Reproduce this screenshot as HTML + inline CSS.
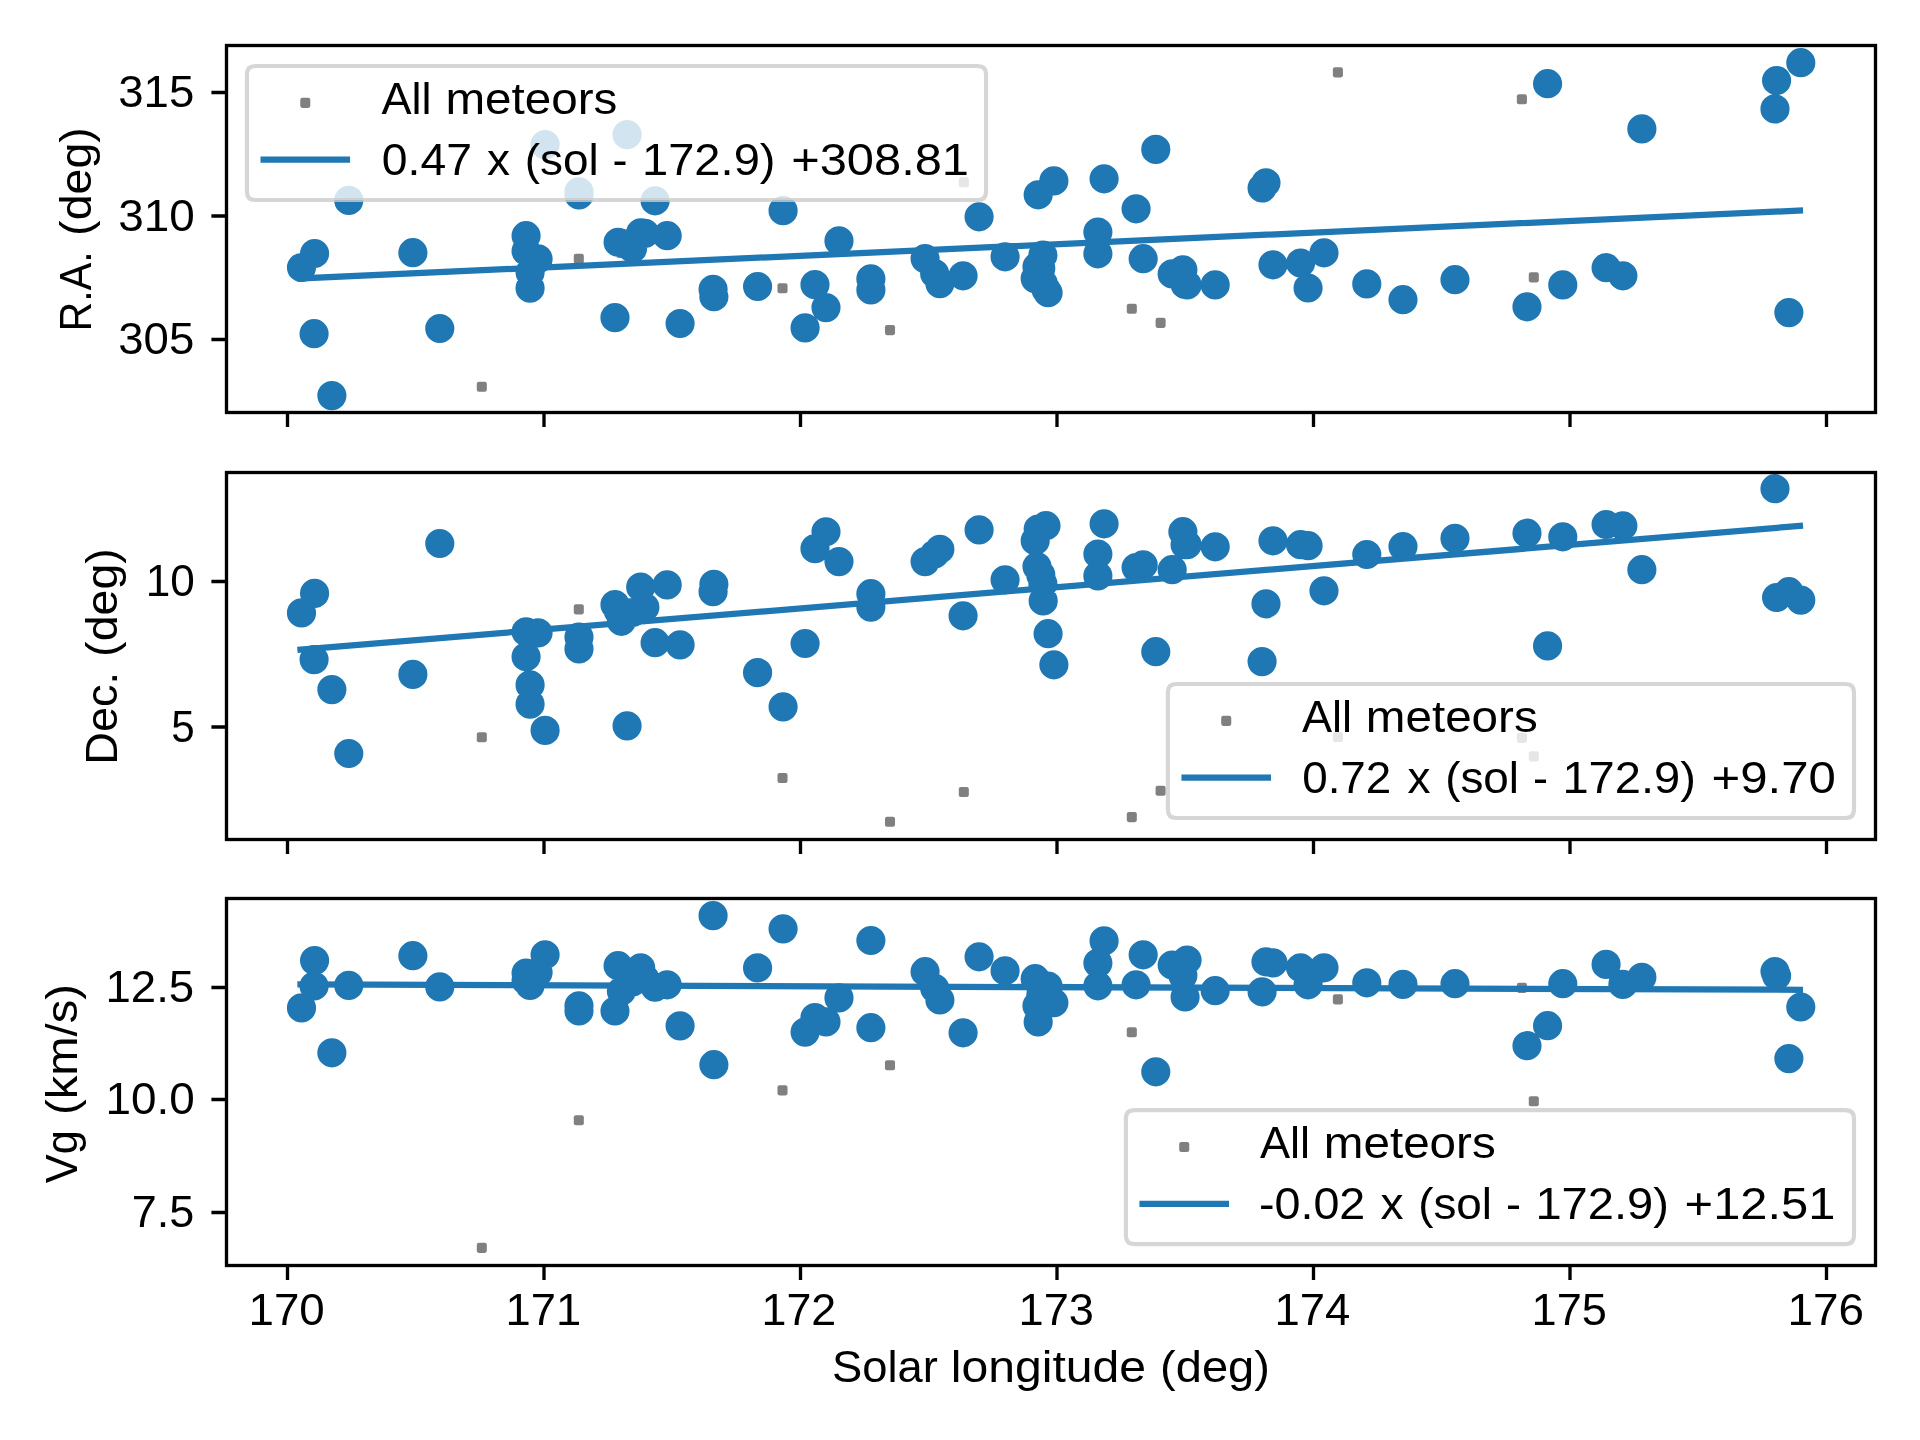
<!DOCTYPE html>
<html lang="en"><head><meta charset="utf-8"><title>Meteor shower radiant drift</title>
<style>html,body{margin:0;padding:0;background:#fff}svg{display:block;will-change:transform}text{font-family:"Liberation Sans",sans-serif;font-size:44.2px;fill:#000}</style></head>
<body><svg width="1920" height="1440" viewBox="0 0 1920 1440">
<rect width="1920" height="1440" fill="#fff"/>
<g>
<g><rect x="476.77" y="381.77" width="10.06" height="10.06" rx="2.08" fill="#808080"/><rect x="573.77" y="253.87" width="10.06" height="10.06" rx="2.08" fill="#808080"/><rect x="777.47" y="283.17" width="10.06" height="10.06" rx="2.08" fill="#808080"/><rect x="884.97" y="325.07" width="10.06" height="10.06" rx="2.08" fill="#808080"/><rect x="958.77" y="177.27" width="10.06" height="10.06" rx="2.08" fill="#808080"/><rect x="1126.77" y="303.67" width="10.06" height="10.06" rx="2.08" fill="#808080"/><rect x="1155.57" y="317.87" width="10.06" height="10.06" rx="2.08" fill="#808080"/><rect x="1332.87" y="67.37" width="10.06" height="10.06" rx="2.08" fill="#808080"/><rect x="1516.87" y="94.17" width="10.06" height="10.06" rx="2.08" fill="#808080"/><rect x="1528.77" y="272.37" width="10.06" height="10.06" rx="2.08" fill="#808080"/></g>
<path fill="#1f77b4" d="M286.9 267.5a14.58 14.58 0 1 0 29.16 0a14.58 14.58 0 1 0-29.16 0zM300.0 253.5a14.58 14.58 0 1 0 29.16 0a14.58 14.58 0 1 0-29.16 0zM299.5 333.7a14.58 14.58 0 1 0 29.16 0a14.58 14.58 0 1 0-29.16 0zM317.3 395.6a14.58 14.58 0 1 0 29.16 0a14.58 14.58 0 1 0-29.16 0zM334.2 200.4a14.58 14.58 0 1 0 29.16 0a14.58 14.58 0 1 0-29.16 0zM398.3 252.7a14.58 14.58 0 1 0 29.16 0a14.58 14.58 0 1 0-29.16 0zM425.2 328.5a14.58 14.58 0 1 0 29.16 0a14.58 14.58 0 1 0-29.16 0zM511.5 235.7a14.58 14.58 0 1 0 29.16 0a14.58 14.58 0 1 0-29.16 0zM511.5 251.1a14.58 14.58 0 1 0 29.16 0a14.58 14.58 0 1 0-29.16 0zM515.5 272.4a14.58 14.58 0 1 0 29.16 0a14.58 14.58 0 1 0-29.16 0zM515.5 288.2a14.58 14.58 0 1 0 29.16 0a14.58 14.58 0 1 0-29.16 0zM523.5 258.9a14.58 14.58 0 1 0 29.16 0a14.58 14.58 0 1 0-29.16 0zM530.5 144.6a14.58 14.58 0 1 0 29.16 0a14.58 14.58 0 1 0-29.16 0zM564.4 191.8a14.58 14.58 0 1 0 29.16 0a14.58 14.58 0 1 0-29.16 0zM564.4 194.9a14.58 14.58 0 1 0 29.16 0a14.58 14.58 0 1 0-29.16 0zM600.4 317.7a14.58 14.58 0 1 0 29.16 0a14.58 14.58 0 1 0-29.16 0zM603.5 242.3a14.58 14.58 0 1 0 29.16 0a14.58 14.58 0 1 0-29.16 0zM606.8 243.4a14.58 14.58 0 1 0 29.16 0a14.58 14.58 0 1 0-29.16 0zM612.5 134.7a14.58 14.58 0 1 0 29.16 0a14.58 14.58 0 1 0-29.16 0zM618.0 248.5a14.58 14.58 0 1 0 29.16 0a14.58 14.58 0 1 0-29.16 0zM626.1 232.9a14.58 14.58 0 1 0 29.16 0a14.58 14.58 0 1 0-29.16 0zM630.3 233.4a14.58 14.58 0 1 0 29.16 0a14.58 14.58 0 1 0-29.16 0zM640.5 200.8a14.58 14.58 0 1 0 29.16 0a14.58 14.58 0 1 0-29.16 0zM652.6 235.7a14.58 14.58 0 1 0 29.16 0a14.58 14.58 0 1 0-29.16 0zM665.5 323.5a14.58 14.58 0 1 0 29.16 0a14.58 14.58 0 1 0-29.16 0zM698.5 289.4a14.58 14.58 0 1 0 29.16 0a14.58 14.58 0 1 0-29.16 0zM699.3 296.7a14.58 14.58 0 1 0 29.16 0a14.58 14.58 0 1 0-29.16 0zM743.0 286.5a14.58 14.58 0 1 0 29.16 0a14.58 14.58 0 1 0-29.16 0zM768.5 210.7a14.58 14.58 0 1 0 29.16 0a14.58 14.58 0 1 0-29.16 0zM790.5 327.9a14.58 14.58 0 1 0 29.16 0a14.58 14.58 0 1 0-29.16 0zM800.4 284.7a14.58 14.58 0 1 0 29.16 0a14.58 14.58 0 1 0-29.16 0zM811.4 307.6a14.58 14.58 0 1 0 29.16 0a14.58 14.58 0 1 0-29.16 0zM824.4 240.9a14.58 14.58 0 1 0 29.16 0a14.58 14.58 0 1 0-29.16 0zM856.3 278.9a14.58 14.58 0 1 0 29.16 0a14.58 14.58 0 1 0-29.16 0zM856.3 289.9a14.58 14.58 0 1 0 29.16 0a14.58 14.58 0 1 0-29.16 0zM910.5 258.6a14.58 14.58 0 1 0 29.16 0a14.58 14.58 0 1 0-29.16 0zM920.1 273.7a14.58 14.58 0 1 0 29.16 0a14.58 14.58 0 1 0-29.16 0zM925.3 283.6a14.58 14.58 0 1 0 29.16 0a14.58 14.58 0 1 0-29.16 0zM948.5 275.8a14.58 14.58 0 1 0 29.16 0a14.58 14.58 0 1 0-29.16 0zM964.5 216.8a14.58 14.58 0 1 0 29.16 0a14.58 14.58 0 1 0-29.16 0zM990.5 256.8a14.58 14.58 0 1 0 29.16 0a14.58 14.58 0 1 0-29.16 0zM1020.6 278.6a14.58 14.58 0 1 0 29.16 0a14.58 14.58 0 1 0-29.16 0zM1022.4 266.7a14.58 14.58 0 1 0 29.16 0a14.58 14.58 0 1 0-29.16 0zM1023.6 194.8a14.58 14.58 0 1 0 29.16 0a14.58 14.58 0 1 0-29.16 0zM1026.2 268.4a14.58 14.58 0 1 0 29.16 0a14.58 14.58 0 1 0-29.16 0zM1028.3 255.2a14.58 14.58 0 1 0 29.16 0a14.58 14.58 0 1 0-29.16 0zM1028.6 283.3a14.58 14.58 0 1 0 29.16 0a14.58 14.58 0 1 0-29.16 0zM1031.4 289.4a14.58 14.58 0 1 0 29.16 0a14.58 14.58 0 1 0-29.16 0zM1033.5 292.7a14.58 14.58 0 1 0 29.16 0a14.58 14.58 0 1 0-29.16 0zM1039.3 180.9a14.58 14.58 0 1 0 29.16 0a14.58 14.58 0 1 0-29.16 0zM1083.3 232.1a14.58 14.58 0 1 0 29.16 0a14.58 14.58 0 1 0-29.16 0zM1083.3 253.8a14.58 14.58 0 1 0 29.16 0a14.58 14.58 0 1 0-29.16 0zM1089.5 178.8a14.58 14.58 0 1 0 29.16 0a14.58 14.58 0 1 0-29.16 0zM1121.5 208.8a14.58 14.58 0 1 0 29.16 0a14.58 14.58 0 1 0-29.16 0zM1128.6 258.7a14.58 14.58 0 1 0 29.16 0a14.58 14.58 0 1 0-29.16 0zM1141.2 149.4a14.58 14.58 0 1 0 29.16 0a14.58 14.58 0 1 0-29.16 0zM1157.6 273.9a14.58 14.58 0 1 0 29.16 0a14.58 14.58 0 1 0-29.16 0zM1168.3 269.8a14.58 14.58 0 1 0 29.16 0a14.58 14.58 0 1 0-29.16 0zM1170.5 284.4a14.58 14.58 0 1 0 29.16 0a14.58 14.58 0 1 0-29.16 0zM1172.5 284.9a14.58 14.58 0 1 0 29.16 0a14.58 14.58 0 1 0-29.16 0zM1200.6 284.9a14.58 14.58 0 1 0 29.16 0a14.58 14.58 0 1 0-29.16 0zM1247.5 188.0a14.58 14.58 0 1 0 29.16 0a14.58 14.58 0 1 0-29.16 0zM1251.4 182.8a14.58 14.58 0 1 0 29.16 0a14.58 14.58 0 1 0-29.16 0zM1258.4 264.8a14.58 14.58 0 1 0 29.16 0a14.58 14.58 0 1 0-29.16 0zM1286.0 263.0a14.58 14.58 0 1 0 29.16 0a14.58 14.58 0 1 0-29.16 0zM1293.5 288.0a14.58 14.58 0 1 0 29.16 0a14.58 14.58 0 1 0-29.16 0zM1309.4 252.8a14.58 14.58 0 1 0 29.16 0a14.58 14.58 0 1 0-29.16 0zM1352.2 283.9a14.58 14.58 0 1 0 29.16 0a14.58 14.58 0 1 0-29.16 0zM1388.4 299.7a14.58 14.58 0 1 0 29.16 0a14.58 14.58 0 1 0-29.16 0zM1440.4 279.7a14.58 14.58 0 1 0 29.16 0a14.58 14.58 0 1 0-29.16 0zM1512.4 306.8a14.58 14.58 0 1 0 29.16 0a14.58 14.58 0 1 0-29.16 0zM1533.0 83.7a14.58 14.58 0 1 0 29.16 0a14.58 14.58 0 1 0-29.16 0zM1548.2 284.9a14.58 14.58 0 1 0 29.16 0a14.58 14.58 0 1 0-29.16 0zM1591.5 267.7a14.58 14.58 0 1 0 29.16 0a14.58 14.58 0 1 0-29.16 0zM1608.3 275.8a14.58 14.58 0 1 0 29.16 0a14.58 14.58 0 1 0-29.16 0zM1627.3 128.9a14.58 14.58 0 1 0 29.16 0a14.58 14.58 0 1 0-29.16 0zM1760.4 108.9a14.58 14.58 0 1 0 29.16 0a14.58 14.58 0 1 0-29.16 0zM1762.0 80.5a14.58 14.58 0 1 0 29.16 0a14.58 14.58 0 1 0-29.16 0zM1774.3 312.6a14.58 14.58 0 1 0 29.16 0a14.58 14.58 0 1 0-29.16 0zM1786.2 62.7a14.58 14.58 0 1 0 29.16 0a14.58 14.58 0 1 0-29.16 0z"/>
<line x1="300.50" y1="278.48" x2="1799.90" y2="210.57" stroke="#1f77b4" stroke-width="6.25" stroke-linecap="square"/>
<path d="M287.50 412.50v14.58M544.00 412.50v14.58M800.50 412.50v14.58M1057.00 412.50v14.58M1313.50 412.50v14.58M1570.00 412.50v14.58M1826.50 412.50v14.58M226.50 92.50h-15.1M226.50 216.00h-15.1M226.50 339.50h-15.1" stroke="#000" stroke-width="3.33" fill="none"/>
<rect x="226.50" y="45.50" width="1649.00" height="367.00" fill="none" stroke="#000" stroke-width="3.33" stroke-linejoin="miter"/>
<text x="118.27" y="107.20" textLength="75.95" lengthAdjust="spacingAndGlyphs">315</text>
<text x="118.25" y="230.70" textLength="76.54" lengthAdjust="spacingAndGlyphs">310</text>
<text x="118.27" y="354.20" textLength="75.95" lengthAdjust="spacingAndGlyphs">305</text>
<text transform="translate(90.80 2000.00) rotate(-90)" y="0"><tspan x="1668.62" textLength="80.15" lengthAdjust="spacingAndGlyphs">R.A.</tspan> <tspan x="1764.11" textLength="108.78" lengthAdjust="spacingAndGlyphs">(deg)</tspan></text>
<path d="M255.28 66.00L977.72 66.00Q986.05 66.00 986.05 74.33L986.05 191.67Q986.05 200.00 977.72 200.00L255.28 200.00Q246.95 200.00 246.95 191.67L246.95 74.33Q246.95 66.00 255.28 66.00Z" fill="#fff" fill-opacity="0.8" stroke="#ccc" stroke-opacity="0.8" stroke-width="4.17"/>
<rect x="300.25" y="97.87" width="10.06" height="10.06" rx="2.08" fill="#808080"/>
<line x1="263.62" y1="159.70" x2="346.95" y2="159.70" stroke="#1f77b4" stroke-width="6.25" stroke-linecap="square"/>
<text y="114.30"><tspan x="381.51" textLength="50.10" lengthAdjust="spacingAndGlyphs">All</tspan> <tspan x="445.44" textLength="171.88" lengthAdjust="spacingAndGlyphs">meteors</tspan></text>
<text y="175.00"><tspan x="381.79" textLength="90.14" lengthAdjust="spacingAndGlyphs">0.47</tspan> <tspan x="487.08" textLength="23.01" lengthAdjust="spacingAndGlyphs">x</tspan> <tspan x="524.75" textLength="73.91" lengthAdjust="spacingAndGlyphs">(sol</tspan> <tspan x="612.60" textLength="15.00" lengthAdjust="spacingAndGlyphs">-</tspan> <tspan x="642.01" textLength="133.51" lengthAdjust="spacingAndGlyphs">172.9)</tspan> <tspan x="791.22" textLength="177.77" lengthAdjust="spacingAndGlyphs">+308.81</tspan></text>
</g>
<g>
<g><rect x="476.77" y="732.17" width="10.06" height="10.06" rx="2.08" fill="#808080"/><rect x="573.77" y="604.37" width="10.06" height="10.06" rx="2.08" fill="#808080"/><rect x="777.47" y="772.97" width="10.06" height="10.06" rx="2.08" fill="#808080"/><rect x="884.97" y="816.67" width="10.06" height="10.06" rx="2.08" fill="#808080"/><rect x="958.77" y="786.97" width="10.06" height="10.06" rx="2.08" fill="#808080"/><rect x="1126.77" y="812.07" width="10.06" height="10.06" rx="2.08" fill="#808080"/><rect x="1155.57" y="785.77" width="10.06" height="10.06" rx="2.08" fill="#808080"/><rect x="1332.87" y="731.97" width="10.06" height="10.06" rx="2.08" fill="#808080"/><rect x="1516.87" y="732.87" width="10.06" height="10.06" rx="2.08" fill="#808080"/><rect x="1528.77" y="751.37" width="10.06" height="10.06" rx="2.08" fill="#808080"/></g>
<path fill="#1f77b4" d="M286.9 612.9a14.58 14.58 0 1 0 29.16 0a14.58 14.58 0 1 0-29.16 0zM300.0 593.4a14.58 14.58 0 1 0 29.16 0a14.58 14.58 0 1 0-29.16 0zM299.5 659.6a14.58 14.58 0 1 0 29.16 0a14.58 14.58 0 1 0-29.16 0zM317.3 689.6a14.58 14.58 0 1 0 29.16 0a14.58 14.58 0 1 0-29.16 0zM334.2 753.5a14.58 14.58 0 1 0 29.16 0a14.58 14.58 0 1 0-29.16 0zM398.3 674.4a14.58 14.58 0 1 0 29.16 0a14.58 14.58 0 1 0-29.16 0zM425.2 543.5a14.58 14.58 0 1 0 29.16 0a14.58 14.58 0 1 0-29.16 0zM511.5 631.8a14.58 14.58 0 1 0 29.16 0a14.58 14.58 0 1 0-29.16 0zM511.5 656.8a14.58 14.58 0 1 0 29.16 0a14.58 14.58 0 1 0-29.16 0zM515.5 684.9a14.58 14.58 0 1 0 29.16 0a14.58 14.58 0 1 0-29.16 0zM515.5 704.2a14.58 14.58 0 1 0 29.16 0a14.58 14.58 0 1 0-29.16 0zM523.5 632.8a14.58 14.58 0 1 0 29.16 0a14.58 14.58 0 1 0-29.16 0zM530.5 730.4a14.58 14.58 0 1 0 29.16 0a14.58 14.58 0 1 0-29.16 0zM564.4 637.0a14.58 14.58 0 1 0 29.16 0a14.58 14.58 0 1 0-29.16 0zM564.4 648.9a14.58 14.58 0 1 0 29.16 0a14.58 14.58 0 1 0-29.16 0zM600.4 604.7a14.58 14.58 0 1 0 29.16 0a14.58 14.58 0 1 0-29.16 0zM603.5 610.4a14.58 14.58 0 1 0 29.16 0a14.58 14.58 0 1 0-29.16 0zM606.8 621.3a14.58 14.58 0 1 0 29.16 0a14.58 14.58 0 1 0-29.16 0zM612.5 725.8a14.58 14.58 0 1 0 29.16 0a14.58 14.58 0 1 0-29.16 0zM618.0 612.5a14.58 14.58 0 1 0 29.16 0a14.58 14.58 0 1 0-29.16 0zM626.1 587.0a14.58 14.58 0 1 0 29.16 0a14.58 14.58 0 1 0-29.16 0zM630.3 607.3a14.58 14.58 0 1 0 29.16 0a14.58 14.58 0 1 0-29.16 0zM640.5 642.7a14.58 14.58 0 1 0 29.16 0a14.58 14.58 0 1 0-29.16 0zM652.6 584.9a14.58 14.58 0 1 0 29.16 0a14.58 14.58 0 1 0-29.16 0zM665.5 644.8a14.58 14.58 0 1 0 29.16 0a14.58 14.58 0 1 0-29.16 0zM698.5 591.6a14.58 14.58 0 1 0 29.16 0a14.58 14.58 0 1 0-29.16 0zM699.3 584.3a14.58 14.58 0 1 0 29.16 0a14.58 14.58 0 1 0-29.16 0zM743.0 672.7a14.58 14.58 0 1 0 29.16 0a14.58 14.58 0 1 0-29.16 0zM768.5 706.8a14.58 14.58 0 1 0 29.16 0a14.58 14.58 0 1 0-29.16 0zM790.5 643.5a14.58 14.58 0 1 0 29.16 0a14.58 14.58 0 1 0-29.16 0zM800.4 548.7a14.58 14.58 0 1 0 29.16 0a14.58 14.58 0 1 0-29.16 0zM811.4 531.8a14.58 14.58 0 1 0 29.16 0a14.58 14.58 0 1 0-29.16 0zM824.4 561.6a14.58 14.58 0 1 0 29.16 0a14.58 14.58 0 1 0-29.16 0zM856.3 593.7a14.58 14.58 0 1 0 29.16 0a14.58 14.58 0 1 0-29.16 0zM856.3 607.1a14.58 14.58 0 1 0 29.16 0a14.58 14.58 0 1 0-29.16 0zM910.5 561.6a14.58 14.58 0 1 0 29.16 0a14.58 14.58 0 1 0-29.16 0zM920.1 554.0a14.58 14.58 0 1 0 29.16 0a14.58 14.58 0 1 0-29.16 0zM925.3 549.3a14.58 14.58 0 1 0 29.16 0a14.58 14.58 0 1 0-29.16 0zM948.5 615.8a14.58 14.58 0 1 0 29.16 0a14.58 14.58 0 1 0-29.16 0zM964.5 529.9a14.58 14.58 0 1 0 29.16 0a14.58 14.58 0 1 0-29.16 0zM990.5 579.8a14.58 14.58 0 1 0 29.16 0a14.58 14.58 0 1 0-29.16 0zM1020.6 540.8a14.58 14.58 0 1 0 29.16 0a14.58 14.58 0 1 0-29.16 0zM1022.4 566.5a14.58 14.58 0 1 0 29.16 0a14.58 14.58 0 1 0-29.16 0zM1023.6 529.0a14.58 14.58 0 1 0 29.16 0a14.58 14.58 0 1 0-29.16 0zM1026.2 574.9a14.58 14.58 0 1 0 29.16 0a14.58 14.58 0 1 0-29.16 0zM1028.3 583.7a14.58 14.58 0 1 0 29.16 0a14.58 14.58 0 1 0-29.16 0zM1028.6 600.9a14.58 14.58 0 1 0 29.16 0a14.58 14.58 0 1 0-29.16 0zM1031.4 525.7a14.58 14.58 0 1 0 29.16 0a14.58 14.58 0 1 0-29.16 0zM1033.5 633.7a14.58 14.58 0 1 0 29.16 0a14.58 14.58 0 1 0-29.16 0zM1039.3 664.8a14.58 14.58 0 1 0 29.16 0a14.58 14.58 0 1 0-29.16 0zM1083.3 554.0a14.58 14.58 0 1 0 29.16 0a14.58 14.58 0 1 0-29.16 0zM1083.3 575.9a14.58 14.58 0 1 0 29.16 0a14.58 14.58 0 1 0-29.16 0zM1089.5 523.8a14.58 14.58 0 1 0 29.16 0a14.58 14.58 0 1 0-29.16 0zM1121.5 567.6a14.58 14.58 0 1 0 29.16 0a14.58 14.58 0 1 0-29.16 0zM1128.6 564.9a14.58 14.58 0 1 0 29.16 0a14.58 14.58 0 1 0-29.16 0zM1141.2 651.7a14.58 14.58 0 1 0 29.16 0a14.58 14.58 0 1 0-29.16 0zM1157.6 569.7a14.58 14.58 0 1 0 29.16 0a14.58 14.58 0 1 0-29.16 0zM1168.3 531.7a14.58 14.58 0 1 0 29.16 0a14.58 14.58 0 1 0-29.16 0zM1170.5 544.7a14.58 14.58 0 1 0 29.16 0a14.58 14.58 0 1 0-29.16 0zM1172.5 544.7a14.58 14.58 0 1 0 29.16 0a14.58 14.58 0 1 0-29.16 0zM1200.6 546.8a14.58 14.58 0 1 0 29.16 0a14.58 14.58 0 1 0-29.16 0zM1247.5 661.6a14.58 14.58 0 1 0 29.16 0a14.58 14.58 0 1 0-29.16 0zM1251.4 603.8a14.58 14.58 0 1 0 29.16 0a14.58 14.58 0 1 0-29.16 0zM1258.4 540.8a14.58 14.58 0 1 0 29.16 0a14.58 14.58 0 1 0-29.16 0zM1286.0 544.7a14.58 14.58 0 1 0 29.16 0a14.58 14.58 0 1 0-29.16 0zM1293.5 545.7a14.58 14.58 0 1 0 29.16 0a14.58 14.58 0 1 0-29.16 0zM1309.4 590.8a14.58 14.58 0 1 0 29.16 0a14.58 14.58 0 1 0-29.16 0zM1352.2 554.5a14.58 14.58 0 1 0 29.16 0a14.58 14.58 0 1 0-29.16 0zM1388.4 546.5a14.58 14.58 0 1 0 29.16 0a14.58 14.58 0 1 0-29.16 0zM1440.4 538.4a14.58 14.58 0 1 0 29.16 0a14.58 14.58 0 1 0-29.16 0zM1512.4 533.2a14.58 14.58 0 1 0 29.16 0a14.58 14.58 0 1 0-29.16 0zM1533.0 645.9a14.58 14.58 0 1 0 29.16 0a14.58 14.58 0 1 0-29.16 0zM1548.2 536.8a14.58 14.58 0 1 0 29.16 0a14.58 14.58 0 1 0-29.16 0zM1591.5 524.5a14.58 14.58 0 1 0 29.16 0a14.58 14.58 0 1 0-29.16 0zM1608.3 525.8a14.58 14.58 0 1 0 29.16 0a14.58 14.58 0 1 0-29.16 0zM1627.3 569.7a14.58 14.58 0 1 0 29.16 0a14.58 14.58 0 1 0-29.16 0zM1760.4 488.7a14.58 14.58 0 1 0 29.16 0a14.58 14.58 0 1 0-29.16 0zM1762.0 597.5a14.58 14.58 0 1 0 29.16 0a14.58 14.58 0 1 0-29.16 0zM1774.3 591.7a14.58 14.58 0 1 0 29.16 0a14.58 14.58 0 1 0-29.16 0zM1786.2 600.1a14.58 14.58 0 1 0 29.16 0a14.58 14.58 0 1 0-29.16 0z"/>
<line x1="300.50" y1="649.60" x2="1799.90" y2="525.90" stroke="#1f77b4" stroke-width="6.25" stroke-linecap="square"/>
<path d="M287.50 839.50v14.58M544.00 839.50v14.58M800.50 839.50v14.58M1057.00 839.50v14.58M1313.50 839.50v14.58M1570.00 839.50v14.58M1826.50 839.50v14.58M226.50 581.50h-15.1M226.50 727.00h-15.1" stroke="#000" stroke-width="3.33" fill="none"/>
<rect x="226.50" y="472.50" width="1649.00" height="367.00" fill="none" stroke="#000" stroke-width="3.33" stroke-linejoin="miter"/>
<text x="145.64" y="596.00" textLength="49.09" lengthAdjust="spacingAndGlyphs">10</text>
<text x="171.31" y="741.70" textLength="23.46" lengthAdjust="spacingAndGlyphs">5</text>
<text transform="translate(117.40 2000.00) rotate(-90)" y="0"><tspan x="1235.30" textLength="92.83" lengthAdjust="spacingAndGlyphs">Dec.</tspan> <tspan x="1343.11" textLength="108.78" lengthAdjust="spacingAndGlyphs">(deg)</tspan></text>
<path d="M1176.23 684.00L1845.67 684.00Q1854.00 684.00 1854.00 692.33L1854.00 809.67Q1854.00 818.00 1845.67 818.00L1176.23 818.00Q1167.90 818.00 1167.90 809.67L1167.90 692.33Q1167.90 684.00 1176.23 684.00Z" fill="#fff" fill-opacity="0.8" stroke="#ccc" stroke-opacity="0.8" stroke-width="4.17"/>
<rect x="1221.20" y="715.87" width="10.06" height="10.06" rx="2.08" fill="#808080"/>
<line x1="1184.57" y1="777.70" x2="1267.90" y2="777.70" stroke="#1f77b4" stroke-width="6.25" stroke-linecap="square"/>
<text y="732.30"><tspan x="1301.91" textLength="50.10" lengthAdjust="spacingAndGlyphs">All</tspan> <tspan x="1365.84" textLength="171.88" lengthAdjust="spacingAndGlyphs">meteors</tspan></text>
<text y="793.00"><tspan x="1302.21" textLength="89.09" lengthAdjust="spacingAndGlyphs">0.72</tspan> <tspan x="1407.48" textLength="23.01" lengthAdjust="spacingAndGlyphs">x</tspan> <tspan x="1445.15" textLength="73.91" lengthAdjust="spacingAndGlyphs">(sol</tspan> <tspan x="1533.00" textLength="15.00" lengthAdjust="spacingAndGlyphs">-</tspan> <tspan x="1562.41" textLength="133.51" lengthAdjust="spacingAndGlyphs">172.9)</tspan> <tspan x="1711.60" textLength="124.32" lengthAdjust="spacingAndGlyphs">+9.70</tspan></text>
</g>
<g>
<g><rect x="476.77" y="1242.87" width="10.06" height="10.06" rx="2.08" fill="#808080"/><rect x="573.77" y="1115.17" width="10.06" height="10.06" rx="2.08" fill="#808080"/><rect x="777.47" y="1085.37" width="10.06" height="10.06" rx="2.08" fill="#808080"/><rect x="884.97" y="1060.27" width="10.06" height="10.06" rx="2.08" fill="#808080"/><rect x="1126.77" y="1027.27" width="10.06" height="10.06" rx="2.08" fill="#808080"/><rect x="1332.87" y="994.37" width="10.06" height="10.06" rx="2.08" fill="#808080"/><rect x="1516.87" y="982.87" width="10.06" height="10.06" rx="2.08" fill="#808080"/><rect x="1528.77" y="1096.27" width="10.06" height="10.06" rx="2.08" fill="#808080"/></g>
<path fill="#1f77b4" d="M286.9 1007.9a14.58 14.58 0 1 0 29.16 0a14.58 14.58 0 1 0-29.16 0zM300.0 960.6a14.58 14.58 0 1 0 29.16 0a14.58 14.58 0 1 0-29.16 0zM299.5 986.0a14.58 14.58 0 1 0 29.16 0a14.58 14.58 0 1 0-29.16 0zM317.3 1052.8a14.58 14.58 0 1 0 29.16 0a14.58 14.58 0 1 0-29.16 0zM334.2 985.4a14.58 14.58 0 1 0 29.16 0a14.58 14.58 0 1 0-29.16 0zM398.3 955.7a14.58 14.58 0 1 0 29.16 0a14.58 14.58 0 1 0-29.16 0zM425.2 986.9a14.58 14.58 0 1 0 29.16 0a14.58 14.58 0 1 0-29.16 0zM511.5 973.0a14.58 14.58 0 1 0 29.16 0a14.58 14.58 0 1 0-29.16 0zM511.5 980.8a14.58 14.58 0 1 0 29.16 0a14.58 14.58 0 1 0-29.16 0zM515.5 985.5a14.58 14.58 0 1 0 29.16 0a14.58 14.58 0 1 0-29.16 0zM515.5 984.4a14.58 14.58 0 1 0 29.16 0a14.58 14.58 0 1 0-29.16 0zM523.5 972.5a14.58 14.58 0 1 0 29.16 0a14.58 14.58 0 1 0-29.16 0zM530.5 954.8a14.58 14.58 0 1 0 29.16 0a14.58 14.58 0 1 0-29.16 0zM564.4 1005.8a14.58 14.58 0 1 0 29.16 0a14.58 14.58 0 1 0-29.16 0zM564.4 1011.0a14.58 14.58 0 1 0 29.16 0a14.58 14.58 0 1 0-29.16 0zM600.4 1011.0a14.58 14.58 0 1 0 29.16 0a14.58 14.58 0 1 0-29.16 0zM603.5 965.7a14.58 14.58 0 1 0 29.16 0a14.58 14.58 0 1 0-29.16 0zM606.8 991.2a14.58 14.58 0 1 0 29.16 0a14.58 14.58 0 1 0-29.16 0zM612.5 976.4a14.58 14.58 0 1 0 29.16 0a14.58 14.58 0 1 0-29.16 0zM618.0 981.9a14.58 14.58 0 1 0 29.16 0a14.58 14.58 0 1 0-29.16 0zM626.1 967.8a14.58 14.58 0 1 0 29.16 0a14.58 14.58 0 1 0-29.16 0zM630.3 978.7a14.58 14.58 0 1 0 29.16 0a14.58 14.58 0 1 0-29.16 0zM640.5 987.1a14.58 14.58 0 1 0 29.16 0a14.58 14.58 0 1 0-29.16 0zM652.6 984.8a14.58 14.58 0 1 0 29.16 0a14.58 14.58 0 1 0-29.16 0zM665.5 1025.8a14.58 14.58 0 1 0 29.16 0a14.58 14.58 0 1 0-29.16 0zM698.5 915.7a14.58 14.58 0 1 0 29.16 0a14.58 14.58 0 1 0-29.16 0zM699.3 1064.7a14.58 14.58 0 1 0 29.16 0a14.58 14.58 0 1 0-29.16 0zM743.0 967.9a14.58 14.58 0 1 0 29.16 0a14.58 14.58 0 1 0-29.16 0zM768.5 928.8a14.58 14.58 0 1 0 29.16 0a14.58 14.58 0 1 0-29.16 0zM790.5 1032.1a14.58 14.58 0 1 0 29.16 0a14.58 14.58 0 1 0-29.16 0zM800.4 1017.5a14.58 14.58 0 1 0 29.16 0a14.58 14.58 0 1 0-29.16 0zM811.4 1021.9a14.58 14.58 0 1 0 29.16 0a14.58 14.58 0 1 0-29.16 0zM824.4 997.9a14.58 14.58 0 1 0 29.16 0a14.58 14.58 0 1 0-29.16 0zM856.3 940.5a14.58 14.58 0 1 0 29.16 0a14.58 14.58 0 1 0-29.16 0zM856.3 1027.7a14.58 14.58 0 1 0 29.16 0a14.58 14.58 0 1 0-29.16 0zM910.5 971.7a14.58 14.58 0 1 0 29.16 0a14.58 14.58 0 1 0-29.16 0zM920.1 988.3a14.58 14.58 0 1 0 29.16 0a14.58 14.58 0 1 0-29.16 0zM925.3 1000.0a14.58 14.58 0 1 0 29.16 0a14.58 14.58 0 1 0-29.16 0zM948.5 1032.8a14.58 14.58 0 1 0 29.16 0a14.58 14.58 0 1 0-29.16 0zM964.5 956.8a14.58 14.58 0 1 0 29.16 0a14.58 14.58 0 1 0-29.16 0zM990.5 970.8a14.58 14.58 0 1 0 29.16 0a14.58 14.58 0 1 0-29.16 0zM1020.6 978.7a14.58 14.58 0 1 0 29.16 0a14.58 14.58 0 1 0-29.16 0zM1022.4 1005.8a14.58 14.58 0 1 0 29.16 0a14.58 14.58 0 1 0-29.16 0zM1023.6 1022.0a14.58 14.58 0 1 0 29.16 0a14.58 14.58 0 1 0-29.16 0zM1026.2 995.4a14.58 14.58 0 1 0 29.16 0a14.58 14.58 0 1 0-29.16 0zM1028.3 990.4a14.58 14.58 0 1 0 29.16 0a14.58 14.58 0 1 0-29.16 0zM1028.6 1000.4a14.58 14.58 0 1 0 29.16 0a14.58 14.58 0 1 0-29.16 0zM1031.4 988.4a14.58 14.58 0 1 0 29.16 0a14.58 14.58 0 1 0-29.16 0zM1033.5 986.0a14.58 14.58 0 1 0 29.16 0a14.58 14.58 0 1 0-29.16 0zM1039.3 1002.7a14.58 14.58 0 1 0 29.16 0a14.58 14.58 0 1 0-29.16 0zM1083.3 963.1a14.58 14.58 0 1 0 29.16 0a14.58 14.58 0 1 0-29.16 0zM1083.3 985.8a14.58 14.58 0 1 0 29.16 0a14.58 14.58 0 1 0-29.16 0zM1089.5 940.9a14.58 14.58 0 1 0 29.16 0a14.58 14.58 0 1 0-29.16 0zM1121.5 984.8a14.58 14.58 0 1 0 29.16 0a14.58 14.58 0 1 0-29.16 0zM1128.6 954.8a14.58 14.58 0 1 0 29.16 0a14.58 14.58 0 1 0-29.16 0zM1141.2 1071.8a14.58 14.58 0 1 0 29.16 0a14.58 14.58 0 1 0-29.16 0zM1157.6 965.0a14.58 14.58 0 1 0 29.16 0a14.58 14.58 0 1 0-29.16 0zM1168.3 975.6a14.58 14.58 0 1 0 29.16 0a14.58 14.58 0 1 0-29.16 0zM1170.5 997.0a14.58 14.58 0 1 0 29.16 0a14.58 14.58 0 1 0-29.16 0zM1172.5 960.0a14.58 14.58 0 1 0 29.16 0a14.58 14.58 0 1 0-29.16 0zM1200.6 990.7a14.58 14.58 0 1 0 29.16 0a14.58 14.58 0 1 0-29.16 0zM1247.5 991.8a14.58 14.58 0 1 0 29.16 0a14.58 14.58 0 1 0-29.16 0zM1251.4 961.8a14.58 14.58 0 1 0 29.16 0a14.58 14.58 0 1 0-29.16 0zM1258.4 962.9a14.58 14.58 0 1 0 29.16 0a14.58 14.58 0 1 0-29.16 0zM1286.0 967.8a14.58 14.58 0 1 0 29.16 0a14.58 14.58 0 1 0-29.16 0zM1293.5 984.8a14.58 14.58 0 1 0 29.16 0a14.58 14.58 0 1 0-29.16 0zM1309.4 967.8a14.58 14.58 0 1 0 29.16 0a14.58 14.58 0 1 0-29.16 0zM1352.2 982.8a14.58 14.58 0 1 0 29.16 0a14.58 14.58 0 1 0-29.16 0zM1388.4 984.4a14.58 14.58 0 1 0 29.16 0a14.58 14.58 0 1 0-29.16 0zM1440.4 983.7a14.58 14.58 0 1 0 29.16 0a14.58 14.58 0 1 0-29.16 0zM1512.4 1045.7a14.58 14.58 0 1 0 29.16 0a14.58 14.58 0 1 0-29.16 0zM1533.0 1025.7a14.58 14.58 0 1 0 29.16 0a14.58 14.58 0 1 0-29.16 0zM1548.2 983.7a14.58 14.58 0 1 0 29.16 0a14.58 14.58 0 1 0-29.16 0zM1591.5 964.4a14.58 14.58 0 1 0 29.16 0a14.58 14.58 0 1 0-29.16 0zM1608.3 984.4a14.58 14.58 0 1 0 29.16 0a14.58 14.58 0 1 0-29.16 0zM1627.3 977.3a14.58 14.58 0 1 0 29.16 0a14.58 14.58 0 1 0-29.16 0zM1760.4 971.5a14.58 14.58 0 1 0 29.16 0a14.58 14.58 0 1 0-29.16 0zM1762.0 975.7a14.58 14.58 0 1 0 29.16 0a14.58 14.58 0 1 0-29.16 0zM1774.3 1058.6a14.58 14.58 0 1 0 29.16 0a14.58 14.58 0 1 0-29.16 0zM1786.2 1007.0a14.58 14.58 0 1 0 29.16 0a14.58 14.58 0 1 0-29.16 0z"/>
<line x1="300.50" y1="984.49" x2="1799.90" y2="989.75" stroke="#1f77b4" stroke-width="6.25" stroke-linecap="square"/>
<path d="M287.50 1265.50v14.58M544.00 1265.50v14.58M800.50 1265.50v14.58M1057.00 1265.50v14.58M1313.50 1265.50v14.58M1570.00 1265.50v14.58M1826.50 1265.50v14.58M226.50 987.50h-15.1M226.50 1099.50h-15.1M226.50 1212.50h-15.1" stroke="#000" stroke-width="3.33" fill="none"/>
<rect x="226.50" y="898.50" width="1649.00" height="367.00" fill="none" stroke="#000" stroke-width="3.33" stroke-linejoin="miter"/>
<text x="105.53" y="1001.70" textLength="88.68" lengthAdjust="spacingAndGlyphs">12.5</text>
<text x="105.51" y="1113.70" textLength="89.29" lengthAdjust="spacingAndGlyphs">10.0</text>
<text x="131.69" y="1226.70" textLength="62.49" lengthAdjust="spacingAndGlyphs">7.5</text>
<text transform="translate(77.40 2000.00) rotate(-90)" y="0"><tspan x="816.81" textLength="52.98" lengthAdjust="spacingAndGlyphs">Vg</tspan> <tspan x="885.08" textLength="130.85" lengthAdjust="spacingAndGlyphs">(km/s)</tspan></text>
<path d="M1134.23 1110.10L1845.67 1110.10Q1854.00 1110.10 1854.00 1118.43L1854.00 1235.77Q1854.00 1244.10 1845.67 1244.10L1134.23 1244.10Q1125.90 1244.10 1125.90 1235.77L1125.90 1118.43Q1125.90 1110.10 1134.23 1110.10Z" fill="#fff" fill-opacity="0.8" stroke="#ccc" stroke-opacity="0.8" stroke-width="4.17"/>
<rect x="1179.20" y="1141.97" width="10.06" height="10.06" rx="2.08" fill="#808080"/>
<line x1="1142.57" y1="1203.80" x2="1225.90" y2="1203.80" stroke="#1f77b4" stroke-width="6.25" stroke-linecap="square"/>
<text y="1158.40"><tspan x="1259.91" textLength="50.10" lengthAdjust="spacingAndGlyphs">All</tspan> <tspan x="1323.84" textLength="171.88" lengthAdjust="spacingAndGlyphs">meteors</tspan></text>
<text y="1219.10"><tspan x="1258.92" textLength="106.42" lengthAdjust="spacingAndGlyphs">-0.02</tspan> <tspan x="1380.48" textLength="23.01" lengthAdjust="spacingAndGlyphs">x</tspan> <tspan x="1418.15" textLength="73.91" lengthAdjust="spacingAndGlyphs">(sol</tspan> <tspan x="1506.00" textLength="15.00" lengthAdjust="spacingAndGlyphs">-</tspan> <tspan x="1535.41" textLength="133.51" lengthAdjust="spacingAndGlyphs">172.9)</tspan> <tspan x="1684.61" textLength="150.77" lengthAdjust="spacingAndGlyphs">+12.51</tspan></text>
</g>
<text x="248.52" y="1325.30" textLength="76.27" lengthAdjust="spacingAndGlyphs">170</text>
<text x="505.54" y="1325.30" textLength="75.67" lengthAdjust="spacingAndGlyphs">171</text>
<text x="761.59" y="1325.30" textLength="74.66" lengthAdjust="spacingAndGlyphs">172</text>
<text x="1018.56" y="1325.30" textLength="75.43" lengthAdjust="spacingAndGlyphs">173</text>
<text x="1274.54" y="1325.30" textLength="75.79" lengthAdjust="spacingAndGlyphs">174</text>
<text x="1531.56" y="1325.30" textLength="75.34" lengthAdjust="spacingAndGlyphs">175</text>
<text x="1787.51" y="1325.30" textLength="76.51" lengthAdjust="spacingAndGlyphs">176</text>
<text y="1382.30"><tspan x="831.94" textLength="105.81" lengthAdjust="spacingAndGlyphs">Solar</tspan> <tspan x="950.76" textLength="195.38" lengthAdjust="spacingAndGlyphs">longitude</tspan> <tspan x="1160.08" textLength="109.84" lengthAdjust="spacingAndGlyphs">(deg)</tspan></text>
</svg></body></html>
